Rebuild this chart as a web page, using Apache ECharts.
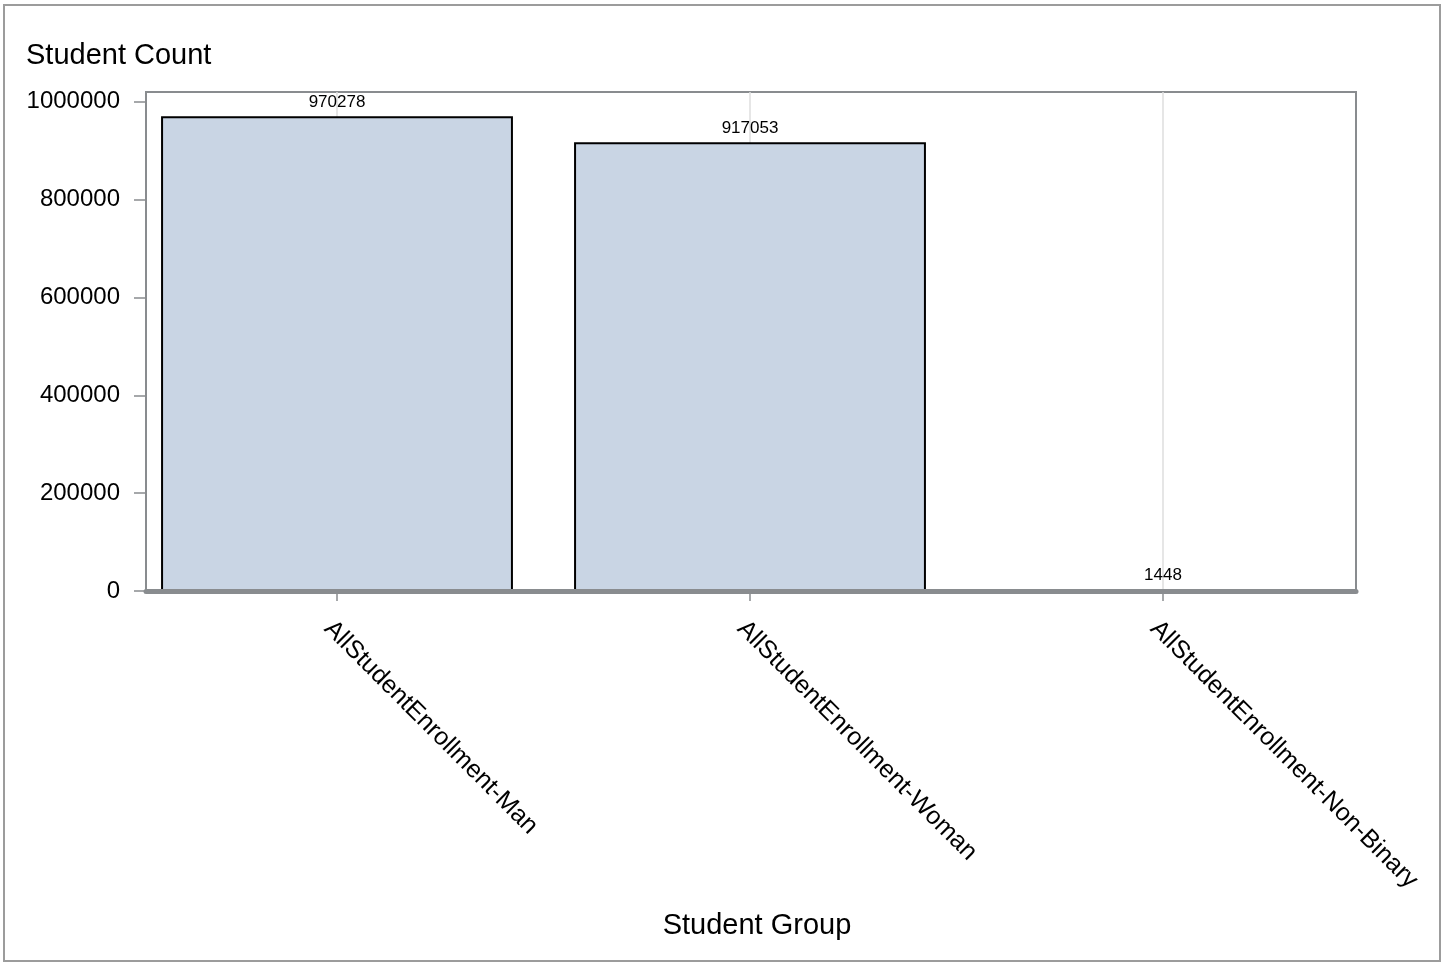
<!DOCTYPE html>
<html>
<head>
<meta charset="utf-8">
<script src="https://cdn.jsdelivr.net/npm/echarts@6/dist/echarts.min.js"></script>
<style>
html,body{margin:0;padding:0;background:#fff;}
#chart{width:1448px;height:963px;}
</style>
</head>
<body>
<div id="chart"></div>
<script>
const categories = ['AllStudentEnrollment-Man', 'AllStudentEnrollment-Woman', 'AllStudentEnrollment-Non-Binary'];
const studentCounts = [970278, 917053, 1448];
const yTicks = [0, 200000, 400000, 600000, 800000, 1000000];
const yMax = 1020000;

const FONT = "'Liberation Sans', Arial, sans-serif";
const FRAME = '#898c8f';

const chart = echarts.init(document.getElementById('chart'), null, {renderer: 'canvas'});
chart.setOption({
  backgroundColor: '#ffffff',
  animation: false,
  title: {
    text: 'Student Count',
    left: 21, top: 36,
    textStyle: {fontFamily: FONT, fontSize: 29, fontWeight: 'normal', color: '#000'}
  },
  graphic: [{
    type: 'rect', silent: true, z: 100,
    shape: {x: 4, y: 5, width: 1436, height: 956},
    style: {fill: 'none', stroke: '#9c9c9c', lineWidth: 2}
  }],
  grid: [
    {left: 146, top: 92, width: 1210, height: 499, show: true, borderColor: FRAME, borderWidth: 2, backgroundColor: 'transparent', containLabel: false},
    {left: 130.5, top: 92, width: 1239, height: 499, containLabel: false}
  ],
  xAxis: [
    {
      gridIndex: 0, type: 'category', data: categories, z: 10,
      axisLine: {show: true, lineStyle: {color: FRAME, width: 5}},
      axisTick: {show: false}, axisLabel: {show: false}, splitLine: {show: false},
      name: 'Student Group', nameLocation: 'middle', nameGap: 320,
      nameTextStyle: {fontFamily: FONT, fontSize: 29, color: '#000', padding: [0, 0, 0, 12]}
    },
    {
      gridIndex: 1, type: 'category', data: categories,
      axisLine: {show: false},
      axisTick: {show: true, alignWithLabel: true, length: 10, lineStyle: {color: FRAME, width: 1.5}},
      axisLabel: {
        show: true, rotate: -45, interval: 0, margin: 25, verticalAlign: 'top',
        fontFamily: FONT, fontSize: 25, color: '#000'
      },
      splitLine: {show: false}
    }
  ],
  yAxis: [
    {
      gridIndex: 0, type: 'value', min: 0, max: yMax,
      axisLine: {show: false},
      axisTick: {show: true, length: 12, customValues: yTicks, lineStyle: {color: FRAME, width: 1.5}},
      axisLabel: {show: true, customValues: yTicks, margin: 26, formatter: v => String(v),
        fontFamily: FONT, fontSize: 24, color: '#000'},
      splitLine: {show: false}
    },
    {
      gridIndex: 1, type: 'value', min: 0, max: yMax, show: false,
      splitLine: {show: false}
    }
  ],
  series: [
    {
      type: 'line', xAxisIndex: 1, yAxisIndex: 1, z: 1, silent: true,
      data: studentCounts, showSymbol: false, lineStyle: {opacity: 0},
      markLine: {
        silent: true, symbol: 'none', animation: false, z: 1,
        label: {show: false},
        lineStyle: {color: '#dedede', width: 1.5, type: 'solid'},
        data: categories.map(c => ({xAxis: c}))
      }
    },
    {
      type: 'bar', xAxisIndex: 1, yAxisIndex: 1, z: 3,
      data: studentCounts,
      barCategoryGap: '14.8%',
      itemStyle: {color: '#c9d5e4', borderColor: '#000', borderWidth: 2},
      label: {show: true, position: 'top', distance: 6, fontFamily: FONT, fontSize: 17, color: '#000'}
    }
  ]
});
</script>
</body>
</html>
